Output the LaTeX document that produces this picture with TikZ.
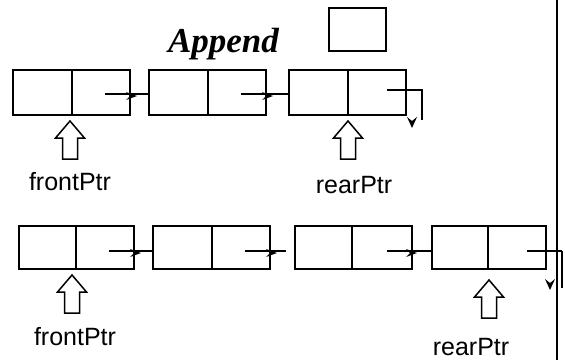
\documentclass[tikz,border=0pt]{standalone}
\usepackage{fontspec}
\setmainfont{Liberation Sans}
\newfontfamily\serifbi{Liberation Serif}
\usetikzlibrary{calc}
\begin{document}
\begin{tikzpicture}[x=1pt,y=-1pt,line width=1.5pt,
  cell/.style={draw,rectangle,inner sep=0pt,outer sep=0pt,anchor=north west},
  rowA/.style={cell,minimum height=45pt},
  rowB/.style={cell,minimum height=43pt},
  lbl/.style={font=\fontsize{25}{30}\selectfont,inner sep=0pt,anchor=base},
  hhead/.pic={\fill (0,0) -- (-11,-4) -- (-7,0) -- (-11,4) -- cycle;},
  vhead/.pic={\fill (0,0) -- (-5,-11) -- (0,-7) -- (5,-11) -- cycle;},
  blk/.pic={\draw (0,0) -- (14.5,17) -- (7.5,17) -- (7.5,38) -- (-7.5,38) -- (-7.5,17) -- (-14.5,17) -- cycle;}]
\useasboundingbox (0,0) rectangle (565,360);

% right border line
\draw[line width=2pt] (557,0) -- (557,360);

% title and new node
\node[inner sep=0pt,anchor=base,font=\serifbi\bfseries\itshape\fontsize{35}{40}\selectfont] (title) at (223.5,52) {Append};
\node[cell,minimum width=57pt,minimum height=43pt] (newbox) at (329,8) {};

% ---------- row 1 ----------
\node[rowA,minimum width=59pt] (a1L) at (13,70) {};
\node[rowA,minimum width=58pt] (a1R) at (a1L.north east) {};
\node[rowA,minimum width=59pt] (a2L) at (149,70) {};
\node[rowA,minimum width=58pt] (a2R) at (a2L.north east) {};
\node[rowA,minimum width=59pt] (a3L) at (289,70) {};
\node[rowA,minimum width=58pt] (a3R) at (a3L.north east) {};

\coordinate (s1) at ([xshift=-25pt,yshift=-1.5pt]a1R.east);
\draw (s1) -- (s1 -| a2L.west);
\pic at ([xshift=7pt,yshift=-2pt]s1 -| a1R.east) {hhead};
\coordinate (s2) at ([xshift=-25pt,yshift=-1.5pt]a2R.east);
\draw (s2) -- (s2 -| a3L.west);
\pic at ([xshift=7pt,yshift=-2pt]s2 -| a2R.east) {hhead};
\coordinate (t1) at ([xshift=-19pt,yshift=2.5pt]a3R.east);
\draw (t1) -- ++(35,0) -- ++(0,30);
\pic at (412,128) {vhead};

\pic at (70,121) {blk};
\pic at (348,121) {blk};
\node[lbl] (f1) at (70,190) {frontPtr};
\node[lbl] (r1) at (354,193) {rearPtr};

% ---------- row 2 ----------
\node[rowB,minimum width=57pt] (b1L) at (19,226) {};
\node[rowB,minimum width=58pt] (b1R) at (b1L.north east) {};
\node[rowB,minimum width=59pt] (b2L) at (153,226) {};
\node[rowB,minimum width=58pt] (b2R) at (b2L.north east) {};
\node[rowB,minimum width=57pt] (b3L) at (295,226) {};
\node[rowB,minimum width=60pt] (b3R) at (b3L.north east) {};
\node[rowB,minimum width=56pt] (b4L) at (432,226) {};
\node[rowB,minimum width=58pt] (b4R) at (b4L.north east) {};

\coordinate (u1) at ([xshift=-25pt,yshift=-3.5pt]b1R.east);
\draw (u1) -- (u1 -| b2L.west);
\pic at ([xshift=7pt,yshift=-2pt]u1 -| b1R.east) {hhead};
\coordinate (u2) at ([xshift=-25pt,yshift=-3.5pt]b2R.east);
\draw (u2) -- ([xshift=16pt]u2 -| b2R.east);
\pic at ([xshift=7pt,yshift=-2pt]u2 -| b2R.east) {hhead};
\coordinate (u3) at ([xshift=-25pt,yshift=-3.5pt]b3R.east);
\draw (u3) -- (u3 -| b4L.west);
\pic at ([xshift=5pt,yshift=-2pt]u3 -| b3R.east) {hhead};
\coordinate (t2) at ([xshift=-19pt,yshift=-3.5pt]b4R.east);
\draw (t2) -- ++(35,0) coordinate (t2c);
\draw[line width=2.6pt] (t2c) -- ++(0,37);
\pic at (550,290) {vhead};

\pic at (72,275) {blk};
\pic at (489,280) {blk};
\node[lbl] (f2) at (75,345) {frontPtr};
\node[lbl] (r2) at (471,355) {rearPtr};
\end{tikzpicture}
\end{document}
